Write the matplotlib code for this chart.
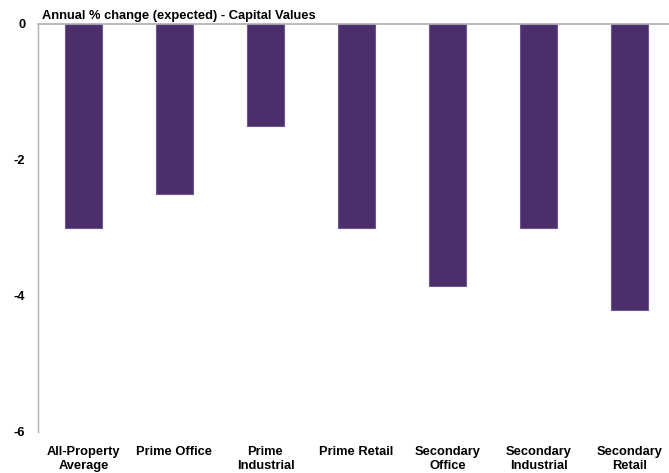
import matplotlib.pyplot as plt

plt.rcParams['font.family'] = ['Liberation Sans', 'DejaVu Sans']

categories = ['All-Property\nAverage', 'Prime Office', 'Prime\nIndustrial', 'Prime Retail',
              'Secondary\nOffice', 'Secondary\nIndustrial', 'Secondary\nRetail']
values = [-3.0, -2.5, -1.5, -3.0, -3.85, -3.0, -4.2]
yticks = [0, -2, -4, -6]

fig = plt.figure(figsize=(6.69, 4.73), dpi=100)
# axes run slightly past the right edge of the figure
ax = fig.add_axes([38 / 669, 41 / 473, 637 / 669, 408 / 473])

x = range(len(categories))
ax.bar(x, values, width=0.4, color='#4b2f6a', edgecolor='#6e5590', linewidth=0.8, zorder=2)

ax.set_xlim(-0.5, 6.5)
ax.set_ylim(-6, 0)
ax.set_yticks(yticks)
ax.set_yticklabels([str(t) for t in yticks], fontweight='bold', fontsize=9.3)
ax.set_xticks(list(x))
ax.set_xticklabels(categories, fontweight='bold', fontsize=9.3, linespacing=1.2)
ax.tick_params(axis='both', length=0)
ax.tick_params(axis='x', pad=10)
ax.tick_params(axis='y', pad=9)

for side in ['right', 'bottom']:
    ax.spines[side].set_visible(False)
ax.spines['left'].set_color('#b0b0b0')
ax.spines['top'].set_color('#b0b0b0')
ax.spines['left'].set_linewidth(1.0)
ax.spines['top'].set_linewidth(1.2)

ax.text(0.006, 1.005, 'Annual % change (expected) - Capital Values', transform=ax.transAxes,
        fontsize=9.3, fontweight='bold', ha='left', va='bottom')

fig.savefig('out.png', dpi=100)
